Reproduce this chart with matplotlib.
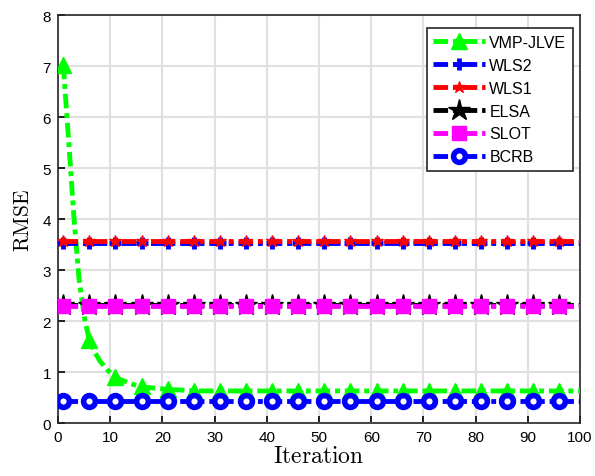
import numpy as np
import matplotlib.pyplot as plt

plt.rcParams['font.family'] = ['Liberation Sans', 'DejaVu Sans']
plt.rcParams['mathtext.fontset'] = 'cm'

# datos
iteraciones = list(range(1, 101))
vmp_inicio = [7.03, 5.6, 4.1, 2.85, 2.1, 1.62, 1.4, 1.22, 1.1, 0.98,
              0.90, 0.85, 0.81, 0.77, 0.74, 0.72, 0.70, 0.69, 0.68, 0.67,
              0.66, 0.655, 0.65, 0.645, 0.64]
vmp_final = 0.63
wls2 = 3.53
wls1 = 3.58
elsa = 2.31
slot = 2.30
bcrb = 0.43

vmp = vmp_inicio + [vmp_final] * (len(iteraciones) - len(vmp_inicio))
n = len(iteraciones)

fig = plt.figure(figsize=(5.95, 4.77), dpi=100)
ax = fig.add_axes([0.0975, 0.111, 0.8775, 0.855])

marcas = slice(0, None, 5)
lw = 3.5
guion = (3, 1, 1, 1)
ax.plot(iteraciones, vmp, color='#00ff00', lw=lw, dashes=guion, marker='^', ms=11,
        markevery=marcas, label='VMP-JLVE', zorder=3)
ax.plot(iteraciones, [wls2] * n, color='#0000ff', lw=lw, dashes=guion, marker='+', ms=8,
        mew=3.5, markevery=marcas, label='WLS2', zorder=3)
ax.plot(iteraciones, [wls1] * n, color='#ff0000', lw=lw, dashes=guion, marker='*', ms=9,
        markevery=marcas, label='WLS1', zorder=3)
ax.plot(iteraciones, [elsa] * n, color='black', lw=lw, dashes=guion, marker='*', ms=16,
        markevery=marcas, label='ELSA', zorder=3)
ax.plot(iteraciones, [slot] * n, color='#ff00ff', lw=lw, dashes=guion, marker='s', ms=9.5,
        markevery=marcas, label='SLOT', zorder=3)
ax.plot(iteraciones, [bcrb] * n, color='#0000ff', lw=lw, dashes=guion, marker='o', ms=8.5,
        mew=4, mfc='white', markevery=marcas, label='BCRB', zorder=3)

ax.set_xlim(0, 100)
ax.set_ylim(0, 8)
ax.set_xticks(range(0, 101, 10))
ax.set_yticks(range(0, 9))
ax.grid(True, color='#e0e0e0', lw=1.5)
ax.set_axisbelow(True)
ax.tick_params(direction='in', labelsize=11, length=5, width=1.2, pad=5)
for s in ax.spines.values():
    s.set_color('#262626')
    s.set_linewidth(1.2)

ax.set_xlabel(r'$\mathrm{Iteration}$', fontsize=17, labelpad=1)
ax.set_ylabel(r'$\mathrm{RMSE}$', fontsize=15.5, labelpad=6)

leg = ax.legend(loc='upper right', fontsize=11.5, frameon=True, fancybox=False,
                handlelength=3.2, handletextpad=0.3, borderpad=0.4,
                labelspacing=0.5, borderaxespad=0.3,
                bbox_to_anchor=(0.995, 0.98))
leg.get_frame().set_edgecolor('#262626')
leg.get_frame().set_linewidth(1.2)
leg.get_frame().set_alpha(1)

fig.savefig('out.png', dpi=100, facecolor='white')
